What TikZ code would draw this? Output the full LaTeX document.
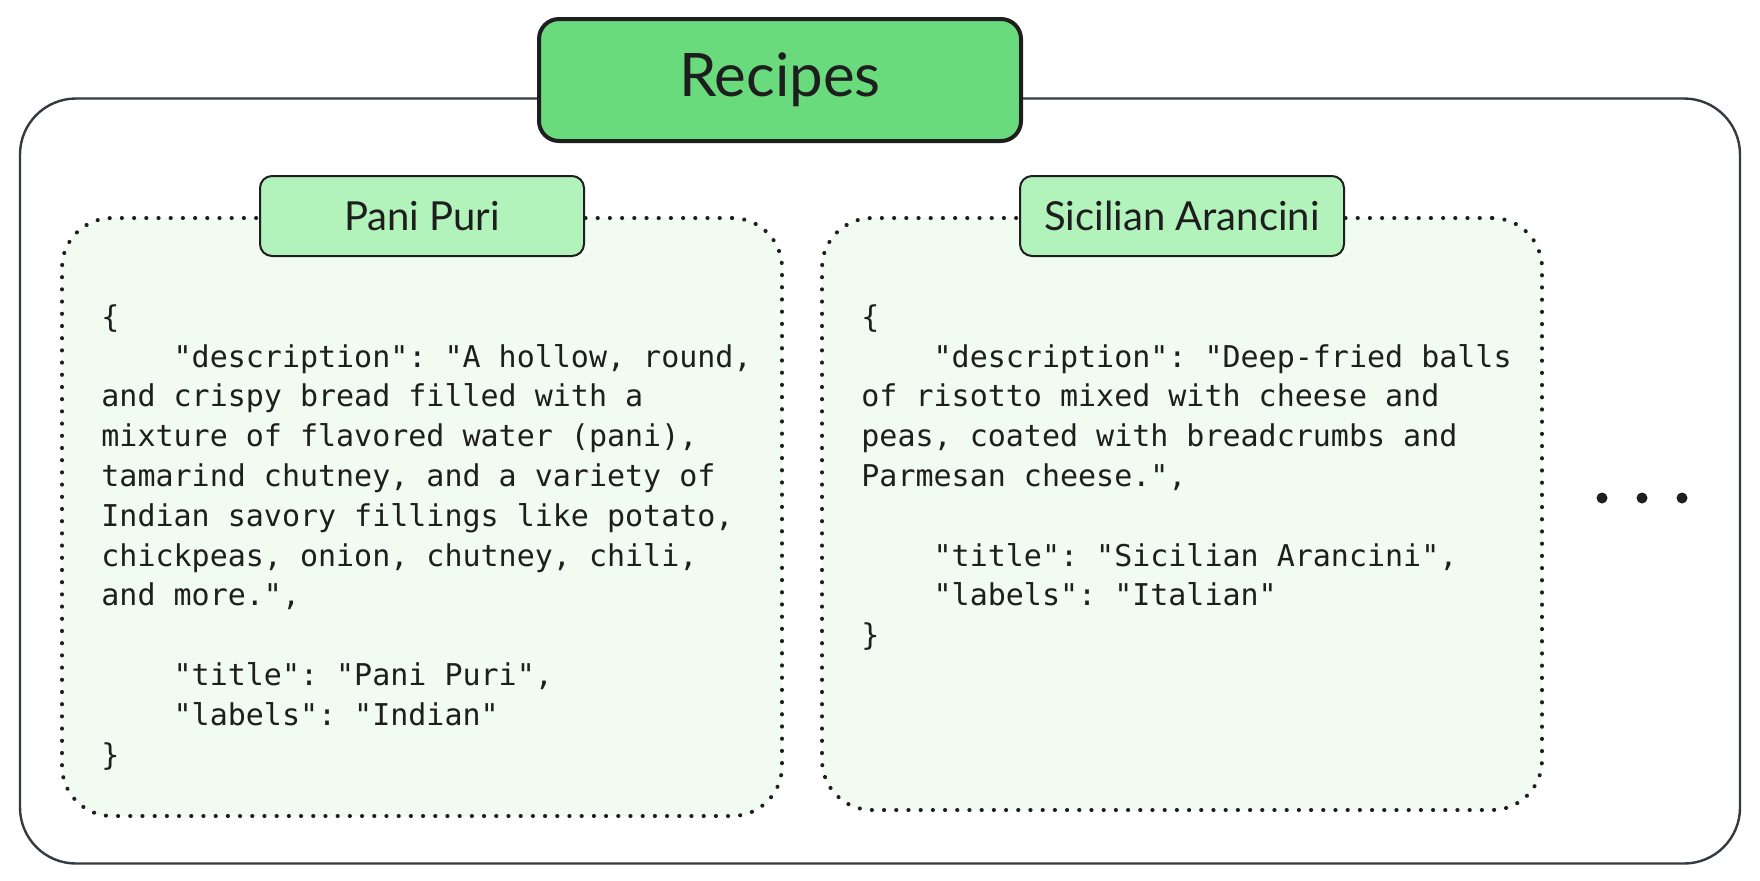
\documentclass[tikz,border=0pt]{standalone}
\usepackage{fontspec}
\setmainfont{Lato}
\setmonofont{DejaVu Sans Mono}
\usetikzlibrary{positioning}

\definecolor{ink}{HTML}{1E1E1E}
\definecolor{framegray}{HTML}{343A40}
\definecolor{titlegreen}{HTML}{69DB7C}
\definecolor{tabgreen}{HTML}{B2F2BB}
\definecolor{cardgreen}{HTML}{F1FBF2}

\newcommand{\ind}{\hphantom{xxxx}}

\begin{document}
\begin{tikzpicture}[x=0.5pt, y=-0.5pt,
    frame/.style={draw=framegray, line width=1.2pt, rounded corners=28pt, minimum width=860pt, minimum height=382.5pt},
    titlebox/.style={draw=ink, line width=2pt, fill=titlegreen, rounded corners=10pt, minimum width=241pt, minimum height=61pt, font=\fontsize{30}{34}\selectfont, text=ink},
    card/.style={draw=ink, line width=2pt, dash pattern=on 0.1pt off 6pt, line cap=round, fill=cardgreen, rounded corners=25pt, minimum width=360pt},
    tab/.style={draw=ink, line width=1pt, fill=tabgreen, rounded corners=6pt, minimum width=162pt, minimum height=40pt, font=\fontsize{20}{24}\selectfont, text=ink},
    code/.style={anchor=north west, inner sep=0pt, align=left, text=ink, font=\ttfamily\fontsize{15}{19.9}\selectfont},
    dot/.style={circle, fill=ink, inner sep=0pt, minimum size=5.5pt}
]
\useasboundingbox (0,0) rectangle (1760,880);

% outer container
\node[frame] (recipes) at (880,481) {};
\node[titlebox] (title) at (780,80) {Recipes};

% recipe cards
\node[card, minimum height=299pt] (panicard) at (422,517) {};
\node[card, minimum height=296pt] (arancard) at (1182,514) {};
\node[tab] (panitab) at (panicard.north) {Pani Puri};
\node[tab] (arantab) at (arancard.north) {Sicilian Arancini};

\node[code] (panicode) at (101,304) {\{\\
\ind"description": "A hollow, round,\\
and crispy bread filled with a\\
mixture of flavored water (pani),\\
tamarind chutney, and a variety of\\
Indian savory fillings like potato,\\
chickpeas, onion, chutney, chili,\\
and more.",\\[19.9pt]
\ind"title": "Pani Puri",\\
\ind"labels": "Indian"\\
\}};

\node[code] (arancode) at (861,304) {\{\\
\ind"description": "Deep-fried balls\\
of risotto mixed with cheese and\\
peas, coated with breadcrumbs and\\
Parmesan cheese.",\\[19.9pt]
\ind"title": "Sicilian Arancini",\\
\ind"labels": "Italian"\\
\}};

% more recipes
\foreach \x/\n in {1602/a, 1642/b, 1682/c}
    \node[dot] (more\n) at (\x,498) {};
\end{tikzpicture}
\end{document}
